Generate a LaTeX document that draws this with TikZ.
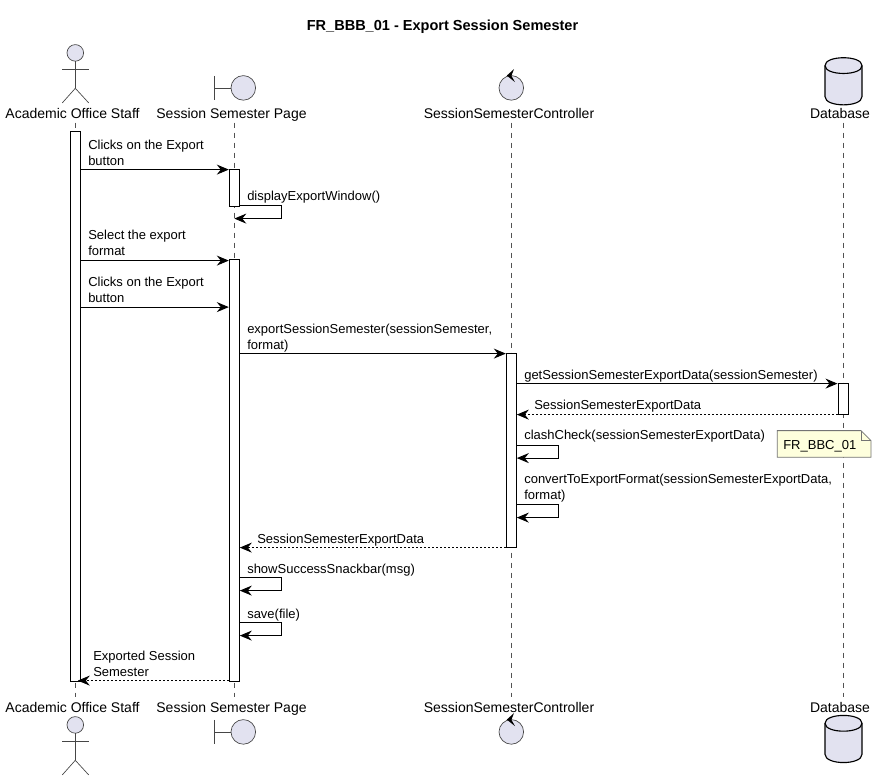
\documentclass[tikz,border=0pt]{standalone}
\usepackage{fontspec}
\setmainfont{Liberation Sans}
\usepackage{tikz}
\usetikzlibrary{arrows.meta,positioning,fit}
\definecolor{partfill}{HTML}{E2E2F0}
\definecolor{partline}{HTML}{181818}
\definecolor{notefill}{HTML}{FEFFDD}
\tikzset{
  partname/.style={font=\fontsize{10.5}{12.5}\selectfont,anchor=base,inner sep=0pt},
  msglabel/.style={font=\fontsize{9.75}{12.2}\selectfont,anchor=base west,inner sep=0pt,align=left},
  lifeline/.style={draw=partline!75,line width=0.6pt,dash pattern=on 3.75pt off 3.75pt},
  actbar/.style={draw=black,fill=white,line width=0.75pt,inner sep=0pt,rectangle},
  msg/.style={draw=black,line width=0.75pt,-{Stealth[length=9pt,width=7.5pt,inset=3pt]}},
  retmsg/.style={msg,dash pattern=on 1.5pt off 1.5pt},
  figure/.style={draw=partline!80,line width=0.5pt},
  blob/.style={figure,fill=partfill},
}
\begin{document}
\begin{tikzpicture}[x=0.75pt,y=-0.75pt]
\useasboundingbox (0,-0.6) rectangle (877,779.4);
\fill[white] (0,-0.6) rectangle (877,779.4);

% Title
\node[font=\bfseries\fontsize{10.9}{13}\selectfont,anchor=base,inner sep=0pt] (title) at (442.5,30) {FR\_BBB\_01 - Export Session Semester};

% Lifelines
\draw[lifeline] (75.5,122) -- (75.5,696);
\draw[lifeline] (234.3,122) -- (234.3,696);
\draw[lifeline] (511.3,122) -- (511.3,696);
\draw[lifeline] (843,122) -- (843,696);

% Participant names
\node[partname] (staffTop) at (72.5,117.5) {Academic Office Staff};
\node[partname] (pageTop) at (231.5,117.5) {Session Semester Page};
\node[partname] (ctrlTop) at (509,117.5) {SessionSemesterController};
\node[partname] (dbTop) at (840,117.5) {Database};
\node[partname] (staffBot) at (72.5,711.5) {Academic Office Staff};
\node[partname] (pageBot) at (231.5,711.5) {Session Semester Page};
\node[partname] (ctrlBot) at (509,711.5) {SessionSemesterController};
\node[partname] (dbBot) at (840,711.5) {Database};

% Actor
\foreach \dy in {0,672} {
  \draw[blob] (75.3,52.3+\dy) circle (8.3);
  \draw[figure] (75.3,60.6+\dy) -- (75.3,87.7+\dy);
  \draw[figure] (62.3,68.3+\dy) -- (88.7,68.3+\dy);
  \draw[figure] (62.3,102.3+\dy) -- (75.3,87.7+\dy) -- (88.7,102.3+\dy);
}

% Boundary
\foreach \dy in {0,644} {
  \draw[figure] (214.3,75.3+\dy) -- (214.3,99.3+\dy);
  \draw[figure] (214.3,87.3+\dy) -- (231,87.3+\dy);
  \draw[blob] (243.3,87.3+\dy) circle (12.3);
}

% Control
\foreach \dy in {0,644} {
  \draw[blob] (511.3,87.3+\dy) circle (12.3);
  \fill[black] (506.8,75+\dy) -- (514,68.5+\dy) -- (511.4,75.2+\dy) -- (515,81.5+\dy) -- cycle;
}

% Database
\foreach \dy in {0,657.7} {
  \draw[blob,draw=black,line width=0.85pt] (825,65+\dy) .. controls (825,54.5+\dy) and (862,54.5+\dy) .. (862,65+\dy)
    -- (862,96+\dy) .. controls (862,107+\dy) and (825,107+\dy) .. (825,96+\dy) -- cycle;
  \draw[draw=black,line width=0.85pt] (825,65+\dy) .. controls (825,75.5+\dy) and (862,75.5+\dy) .. (862,65+\dy);
}

% Activation bars
\node[actbar,fit={(70.3,131) (80.3,680.5)}] (staffBar) {};
\node[actbar,fit={(229.3,169) (239.3,206)}] (pageBarA) {};
\node[actbar,fit={(229.3,259) (239.3,680.5)}] (pageBarB) {};
\node[actbar,fit={(506.3,353) (516.3,547)}] (ctrlBar) {};
\node[actbar,fit={(838,383) (848,414)}] (dbBar) {};

% Messages
\draw[msg] (staffBar.east |- 0,169) -- (pageBarA.west |- 0,169);
\draw[msg] (pageBarA.east |- 0,205) -- (281.5,205) -- (281.5,218) -- (pageBarA.south |- 0,218);
\draw[msg] (staffBar.east |- 0,260) -- (pageBarB.west |- 0,260);
\draw[msg] (staffBar.east |- 0,306.5) -- (pageBarB.west |- 0,306.5);
\draw[msg] (pageBarB.east |- 0,353) -- (ctrlBar.west |- 0,353);
\draw[msg] (ctrlBar.east |- 0,383) -- (dbBar.west |- 0,383);
\draw[retmsg] (dbBar.west |- 0,414) -- (ctrlBar.east |- 0,414);
\draw[msg] (ctrlBar.east |- 0,444.5) -- (558.5,444.5) -- (558.5,457.5) -- (ctrlBar.east |- 0,457.5);
\draw[msg] (ctrlBar.east |- 0,504) -- (558.5,504) -- (558.5,517) -- (ctrlBar.east |- 0,517);
\draw[retmsg] (ctrlBar.west |- 0,547) -- (pageBarB.east |- 0,547);
\draw[msg] (pageBarB.east |- 0,577) -- (281.5,577) -- (281.5,590) -- (pageBarB.east |- 0,590);
\draw[msg] (pageBarB.east |- 0,622) -- (281.5,622) -- (281.5,635) -- (pageBarB.east |- 0,635);
\draw[retmsg,shorten >=-2.25pt] (pageBarB.west |- 0,680) -- (staffBar.east |- 0,680);

% Message labels
\node[msglabel] (lblClickA) at (88,165) {Clicks on the Export\\button};
\node[msglabel] (lblDisplay) at (247,200) {displayExportWindow()};
\node[msglabel] (lblSelect) at (88,255) {Select the export\\format};
\node[msglabel] (lblClickB) at (88,302) {Clicks on the Export\\button};
\node[msglabel] (lblExport) at (247,349) {exportSessionSemester(sessionSemester,\\format)};
\node[msglabel] (lblGet) at (524,378.5) {getSessionSemesterExportData(sessionSemester)};
\node[msglabel] (lblDataA) at (534,408.5) {SessionSemesterExportData};
\node[msglabel] (lblClash) at (524,438.5) {clashCheck(sessionSemesterExportData)};
\node[msglabel] (lblConvert) at (524,499) {convertToExportFormat(sessionSemesterExportData,\\format)};
\node[msglabel] (lblDataB) at (257,543) {SessionSemesterExportData};
\node[msglabel] (lblSnack) at (247,573) {showSuccessSnackbar(msg)};
\node[msglabel] (lblSave) at (247,618) {save(file)};
\node[msglabel] (lblDone) at (93,676) {Exported Session\\Semester};

% Note
\draw[draw=partline!60,line width=0.6pt,fill=notefill] (777.3,430) -- (861,430) -- (871,440) -- (871,456.7) -- (777.3,456.7) -- cycle;
\draw[draw=partline!60,line width=0.6pt] (861,430) -- (861,440) -- (871,440);
\node[msglabel] (lblNote) at (783,449) {FR\_BBC\_01};
\end{tikzpicture}
\end{document}
